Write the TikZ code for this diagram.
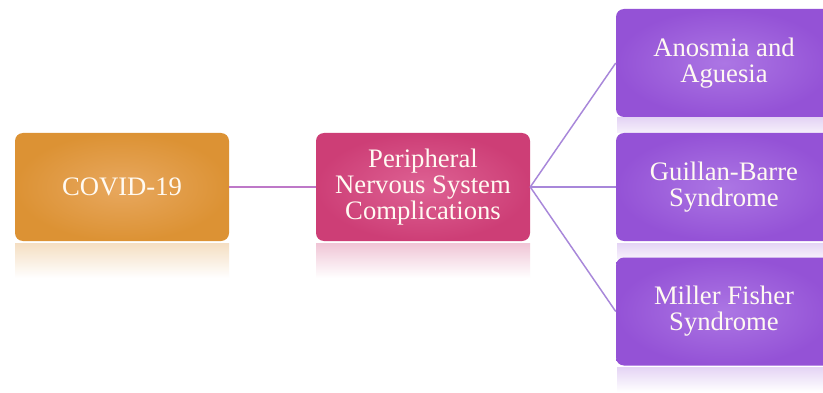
\documentclass[tikz,border=0pt]{standalone}
\usepackage{fontspec}
\setmainfont{Liberation Serif}
\definecolor{orgIn}{RGB}{232,168,95}
\definecolor{orgOut}{RGB}{220,146,52}
\definecolor{pnkIn}{RGB}{222,98,148}
\definecolor{pnkOut}{RGB}{205,62,118}
\definecolor{purIn}{RGB}{172,118,228}
\definecolor{purOut}{RGB}{148,82,214}
\definecolor{lnA}{RGB}{190,120,200}
\definecolor{lnB}{RGB}{168,135,218}
\definecolor{txt}{RGB}{255,250,242}
\tikzset{
  box/.style={shade, rounded corners=6pt, minimum width=160.5pt, minimum height=81pt,
    inner sep=0pt, align=center, text=txt,
    font=\fontsize{20pt}{19.5pt}\selectfont},
  orgbox/.style={box, inner color=orgIn, outer color=orgOut},
  pnkbox/.style={box, inner color=pnkIn, outer color=pnkOut},
  purbox/.style={box, inner color=purIn, outer color=purOut},
  link/.style={line width=1.1pt},
}
\begin{document}
\begin{tikzpicture}[x=0.75pt,y=-0.75pt]
\useasboundingbox (0,0) rectangle (823,392);
\clip (0,0) rectangle (823,392);
\fill[white] (0,0) rectangle (823,392);
% reflections
\shade[top color=orgOut!30!white, bottom color=white] (15,243) rectangle (229,278);
\shade[top color=pnkOut!30!white, bottom color=white] (316,243) rectangle (530,278);
\shade[top color=purOut!25!white, bottom color=purOut!8!white] (617,118) rectangle (835,133);
\shade[top color=purOut!25!white, bottom color=purOut!8!white] (617,243) rectangle (835,258);
\shade[top color=purOut!25!white, bottom color=white] (617,367) rectangle (835,392);
% boxes
\node[orgbox] (covid) at (122,187) {COVID-19};
\node[pnkbox] (pns) at (423,187) {Peripheral\\Nervous System\\Complications};
\node[purbox, minimum width=162pt] (ano) at (724,63) {Anosmia and\\Aguesia};
\node[purbox, minimum width=162pt] (gbs) at (724,187) {Guillan-Barre\\Syndrome};
\node[purbox, minimum width=162pt] (mfs) at (724,311.5) {Miller Fisher\\Syndrome};
% connectors
\draw[link, lnA] (covid.east) -- (pns.west);
\draw[link, lnB] (pns.east) -- (ano.west);
\draw[link, lnB] (pns.east) -- (gbs.west);
\draw[link, lnB] (pns.east) -- (mfs.west);
\end{tikzpicture}
\end{document}
